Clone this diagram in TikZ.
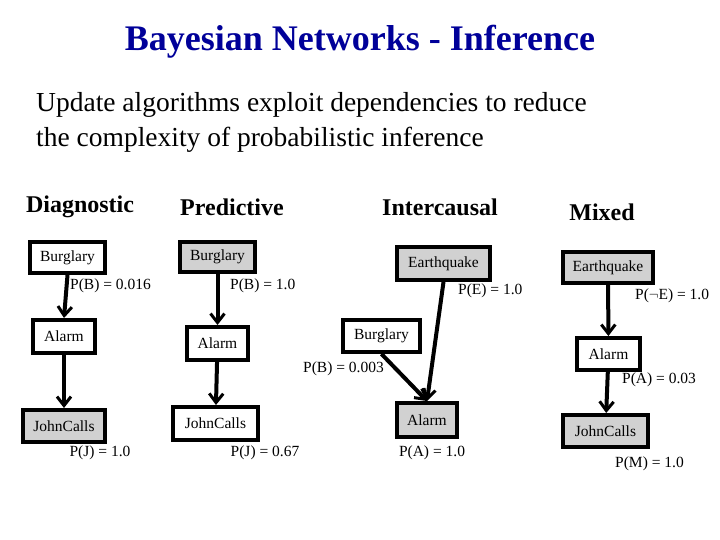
\documentclass[tikz,border=0pt]{standalone}
\usepackage{fontspec}
\setmainfont{Liberation Serif}
\usetikzlibrary{arrows.meta}
\begin{document}
\begin{tikzpicture}[x=1pt,y=-1pt,
  bx/.style={draw,line width=4pt,inner sep=0pt,font=\fontsize{15.5}{17}\selectfont},
  gr/.style={fill=black!18},
  lb/.style={font=\fontsize{15.5}{17}\selectfont,inner sep=0pt},
  hd/.style={font=\fontsize{24}{27}\selectfont\bfseries,inner sep=0pt},
  ar/.style={line width=4pt,-{Straight Barb[length=9pt,width=14pt,line width=3pt]}}]
\useasboundingbox (0,0) rectangle (720,540);
\node[font=\fontsize{36}{40}\selectfont\bfseries,text=blue!60!black] (title) at (360,42) {Bayesian Networks - Inference};
\node[anchor=west,align=left,font=\fontsize{27.5}{35}\selectfont,inner sep=0pt] (txt) at (36,122) {Update algorithms exploit dependencies to reduce\\the complexity of probabilistic inference};
\node[hd] (h1) at (80,207) {Diagnostic};
\node[hd] (h2) at (232,207) {Predictive};
\node[hd] (h3) at (440,207) {Intercausal};
\node[hd] (h4) at (602,212) {Mixed};
% Diagnostic
\node[bx,minimum width=75,minimum height=31] (b1) at (67.5,257.5) {Burglary};
\node[bx,minimum width=62,minimum height=33] (a1) at (64,336.5) {Alarm};
\node[bx,gr,minimum width=82,minimum height=32] (j1) at (64,426) {JohnCalls};
\node[lb,anchor=west] (l1) at (70,286) {P(B) = 0.016};
\node[lb] (l2) at (100,453) {P(J) = 1.0};
\draw[ar] (b1.south) -- (a1.north);
\draw[ar] (a1) -- (j1);
% Predictive
\node[bx,gr,minimum width=75,minimum height=30] (b2) at (217.5,257) {Burglary};
\node[bx,minimum width=61,minimum height=33] (a2) at (217.5,343.5) {Alarm};
\node[bx,minimum width=85,minimum height=33] (j2) at (215.5,423.5) {JohnCalls};
\node[lb,anchor=west] (l3) at (230,286) {P(B) = 1.0};
\node[lb] (l4) at (265,453) {P(J) = 0.67};
\draw[ar] (b2) -- (a2);
\draw[ar] (a2) -- (j2);
% Intercausal
\node[bx,gr,minimum width=93,minimum height=33] (e3) at (443.5,263.5) {Earthquake};
\node[bx,minimum width=77,minimum height=32] (b3) at (381.5,336) {Burglary};
\node[bx,gr,minimum width=60,minimum height=34] (a3) at (427,420) {Alarm};
\node[lb,anchor=west] (l5) at (458,291) {P(E) = 1.0};
\node[lb,anchor=west] (l6) at (303,369) {P(B) = 0.003};
\node[lb] (l7) at (432,453) {P(A) = 1.0};
\draw[ar] (e3.south) -- (a3.north);
\draw[ar] (b3.south) -- (a3.north);
% Mixed
\node[bx,gr,minimum width=90,minimum height=31] (e4) at (608,267.5) {Earthquake};
\node[bx,minimum width=63,minimum height=32] (a4) at (608.5,354) {Alarm};
\node[bx,gr,minimum width=85,minimum height=32] (j4) at (605.5,431) {JohnCalls};
\node[lb,anchor=west] (l8) at (635,296) {P($\neg$E) = 1.0};
\node[lb,anchor=west] (l9) at (622,380) {P(A) = 0.03};
\node[lb,anchor=west] (l10) at (615,464) {P(M) = 1.0};
\draw[ar] (e4) -- (a4);
\draw[ar] (a4) -- (j4);
\end{tikzpicture}
\end{document}
